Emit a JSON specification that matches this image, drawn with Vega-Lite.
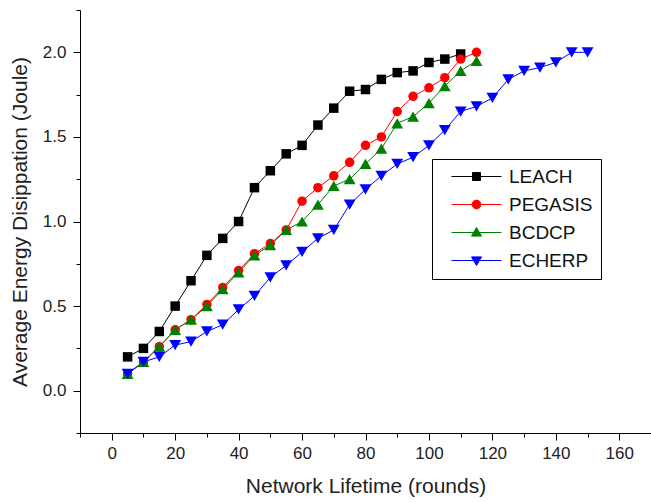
{
  "$schema": "https://vega.github.io/schema/vega-lite/v6.json",
  "width": 571,
  "height": 423,
  "autosize": "none",
  "padding": {"left": 80, "top": 10, "right": 0, "bottom": 69},
  "config": {
    "view": {"stroke": null},
    "font": "Liberation Sans",
    "axis": {
      "domainColor": "#000000",
      "tickColor": "#000000",
      "labelColor": "#222222",
      "titleColor": "#222222",
      "labelFont": "Liberation Sans",
      "titleFont": "Liberation Sans",
      "labelFontSize": 17,
      "titleFontSize": 21,
      "titleFontWeight": "normal",
      "grid": false
    },
    "legend": {
      "title": null,
      "orient": "none",
      "legendX": 352,
      "legendY": 149,
      "strokeColor": "#000000",
      "fillColor": "#ffffff",
      "padding": 8,
      "labelFontSize": 19,
      "labelFont": "Liberation Sans",
      "labelColor": "#111111",
      "symbolSize": 64,
      "rowPadding": 8,
      "labelOffset": 23,
      "symbolOffset": 27
    }
  },
  "datasets": {
    "series": [
      {"r": 5, "e": 0.2, "p": "LEACH"}, {"r": 10, "e": 0.25, "p": "LEACH"}, {"r": 15, "e": 0.35, "p": "LEACH"}, {"r": 20, "e": 0.5, "p": "LEACH"}, {"r": 25, "e": 0.65, "p": "LEACH"}, {"r": 30, "e": 0.8, "p": "LEACH"}, {"r": 35, "e": 0.9, "p": "LEACH"}, {"r": 40, "e": 1.0, "p": "LEACH"}, {"r": 45, "e": 1.2, "p": "LEACH"}, {"r": 50, "e": 1.3, "p": "LEACH"}, {"r": 55, "e": 1.4, "p": "LEACH"}, {"r": 60, "e": 1.45, "p": "LEACH"}, {"r": 65, "e": 1.57, "p": "LEACH"}, {"r": 70, "e": 1.67, "p": "LEACH"}, {"r": 75, "e": 1.77, "p": "LEACH"}, {"r": 80, "e": 1.78, "p": "LEACH"}, {"r": 85, "e": 1.84, "p": "LEACH"}, {"r": 90, "e": 1.88, "p": "LEACH"}, {"r": 95, "e": 1.89, "p": "LEACH"}, {"r": 100, "e": 1.94, "p": "LEACH"}, {"r": 105, "e": 1.96, "p": "LEACH"}, {"r": 110, "e": 1.99, "p": "LEACH"},
      {"r": 5, "e": 0.1, "p": "PEGASIS"}, {"r": 10, "e": 0.17, "p": "PEGASIS"}, {"r": 15, "e": 0.26, "p": "PEGASIS"}, {"r": 20, "e": 0.36, "p": "PEGASIS"}, {"r": 25, "e": 0.42, "p": "PEGASIS"}, {"r": 30, "e": 0.51, "p": "PEGASIS"}, {"r": 35, "e": 0.61, "p": "PEGASIS"}, {"r": 40, "e": 0.71, "p": "PEGASIS"}, {"r": 45, "e": 0.81, "p": "PEGASIS"}, {"r": 50, "e": 0.87, "p": "PEGASIS"}, {"r": 55, "e": 0.95, "p": "PEGASIS"}, {"r": 60, "e": 1.12, "p": "PEGASIS"}, {"r": 65, "e": 1.2, "p": "PEGASIS"}, {"r": 70, "e": 1.27, "p": "PEGASIS"}, {"r": 75, "e": 1.35, "p": "PEGASIS"}, {"r": 80, "e": 1.45, "p": "PEGASIS"}, {"r": 85, "e": 1.5, "p": "PEGASIS"}, {"r": 90, "e": 1.65, "p": "PEGASIS"}, {"r": 95, "e": 1.74, "p": "PEGASIS"}, {"r": 100, "e": 1.79, "p": "PEGASIS"}, {"r": 105, "e": 1.85, "p": "PEGASIS"}, {"r": 110, "e": 1.96, "p": "PEGASIS"}, {"r": 115, "e": 2.0, "p": "PEGASIS"},
      {"r": 5, "e": 0.1, "p": "BCDCP"}, {"r": 10, "e": 0.17, "p": "BCDCP"}, {"r": 15, "e": 0.26, "p": "BCDCP"}, {"r": 20, "e": 0.36, "p": "BCDCP"}, {"r": 25, "e": 0.42, "p": "BCDCP"}, {"r": 30, "e": 0.5, "p": "BCDCP"}, {"r": 35, "e": 0.6, "p": "BCDCP"}, {"r": 40, "e": 0.7, "p": "BCDCP"}, {"r": 45, "e": 0.8, "p": "BCDCP"}, {"r": 50, "e": 0.86, "p": "BCDCP"}, {"r": 55, "e": 0.95, "p": "BCDCP"}, {"r": 60, "e": 1.0, "p": "BCDCP"}, {"r": 65, "e": 1.1, "p": "BCDCP"}, {"r": 70, "e": 1.21, "p": "BCDCP"}, {"r": 75, "e": 1.25, "p": "BCDCP"}, {"r": 80, "e": 1.34, "p": "BCDCP"}, {"r": 85, "e": 1.43, "p": "BCDCP"}, {"r": 90, "e": 1.58, "p": "BCDCP"}, {"r": 95, "e": 1.62, "p": "BCDCP"}, {"r": 100, "e": 1.7, "p": "BCDCP"}, {"r": 105, "e": 1.8, "p": "BCDCP"}, {"r": 110, "e": 1.89, "p": "BCDCP"}, {"r": 115, "e": 1.95, "p": "BCDCP"},
      {"r": 5, "e": 0.1, "p": "ECHERP"}, {"r": 10, "e": 0.17, "p": "ECHERP"}, {"r": 15, "e": 0.2, "p": "ECHERP"}, {"r": 20, "e": 0.27, "p": "ECHERP"}, {"r": 25, "e": 0.29, "p": "ECHERP"}, {"r": 30, "e": 0.35, "p": "ECHERP"}, {"r": 35, "e": 0.39, "p": "ECHERP"}, {"r": 40, "e": 0.48, "p": "ECHERP"}, {"r": 45, "e": 0.56, "p": "ECHERP"}, {"r": 50, "e": 0.67, "p": "ECHERP"}, {"r": 55, "e": 0.74, "p": "ECHERP"}, {"r": 60, "e": 0.82, "p": "ECHERP"}, {"r": 65, "e": 0.9, "p": "ECHERP"}, {"r": 70, "e": 0.95, "p": "ECHERP"}, {"r": 75, "e": 1.1, "p": "ECHERP"}, {"r": 80, "e": 1.19, "p": "ECHERP"}, {"r": 85, "e": 1.27, "p": "ECHERP"}, {"r": 90, "e": 1.34, "p": "ECHERP"}, {"r": 95, "e": 1.38, "p": "ECHERP"}, {"r": 100, "e": 1.45, "p": "ECHERP"}, {"r": 105, "e": 1.54, "p": "ECHERP"}, {"r": 110, "e": 1.65, "p": "ECHERP"}, {"r": 115, "e": 1.68, "p": "ECHERP"}, {"r": 120, "e": 1.73, "p": "ECHERP"}, {"r": 125, "e": 1.84, "p": "ECHERP"}, {"r": 130, "e": 1.89, "p": "ECHERP"}, {"r": 135, "e": 1.91, "p": "ECHERP"}, {"r": 140, "e": 1.94, "p": "ECHERP"}, {"r": 145, "e": 2.0, "p": "ECHERP"}, {"r": 150, "e": 2.0, "p": "ECHERP"}
    ]
  },
  "data": {"name": "series"},
  "layer": [
    {
      "mark": {"type": "line", "strokeWidth": 1},
      "encoding": {
        "x": {"field": "r", "type": "quantitative", "scale": {"domain": [-10, 170], "nice": false, "zero": false},
          "axis": {"title": "Network Lifetime (rounds)", "values": [0, 20, 40, 60, 80, 100, 120, 140, 160], "tickSize": 7, "labelPadding": 5, "titlePadding": 14, "orient": "bottom"}},
        "y": {"field": "e", "type": "quantitative", "scale": {"domain": [-0.25, 2.25], "nice": false, "zero": false},
          "axis": {"title": "Average Energy Disippation (Joule)", "values": [0, 0.5, 1, 1.5, 2], "format": ".1f", "tickSize": 7, "labelPadding": 7, "titlePadding": 12, "orient": "left"}},
        "color": {"field": "p", "type": "nominal",
          "scale": {"domain": ["LEACH", "PEGASIS", "BCDCP", "ECHERP"], "range": ["#000000", "#ff0000", "#008000", "#0000ff"]},
          "legend": {
            "labelExpr": "datum.label + '\u00a0\u00a0'",
            "encode": {
              "symbols": {
                "update": {
                  "shape": {"signal": "datum.value === 'LEACH' ? 'M-6.25,0H6.25M-1,-1H1V1H-1Z' : datum.value === 'PEGASIS' ? 'M-6.25,0H6.25M-1.1,0A1.1,1.1 0 1,0 1.1,0A1.1,1.1 0 1,0 -1.1,0Z' : datum.value === 'BCDCP' ? 'M-6.25,0H6.25M0,-1.25L1.25,0.9H-1.25Z' : 'M-6.25,0H6.25M0,1.25L1.25,-0.9H-1.25Z'"},
                  "size": {"value": 64},
                  "stroke": {"scale": "color", "field": "value"},
                  "fill": {"scale": "color", "field": "value"},
                  "strokeWidth": {"value": 1},
                  "opacity": {"value": 1}
                }
              }
            }
          }},
        "detail": {"field": "p"}
      }
    },
    {"transform": [{"filter": "datum.p === 'LEACH'"}], "mark": {"type": "point", "filled": true, "opacity": 1, "shape": "square", "size": 90},
      "encoding": {"x": {"field": "r", "type": "quantitative", "axis": {"title": null, "values": [-10, 10, 30, 50, 70, 90, 110, 130, 150, 170], "labels": false, "tickSize": 4, "domain": false, "orient": "bottom"}},
        "y": {"field": "e", "type": "quantitative", "axis": {"title": null, "values": [-0.25, 0.25, 0.75, 1.25, 1.75, 2.25], "labels": false, "tickSize": 4, "domain": false, "orient": "left"}},
        "color": {"field": "p", "type": "nominal", "legend": null}}},
    {"transform": [{"filter": "datum.p === 'PEGASIS'"}], "mark": {"type": "point", "filled": true, "opacity": 1, "shape": "circle", "size": 90},
      "encoding": {"x": {"field": "r", "type": "quantitative", "axis": null}, "y": {"field": "e", "type": "quantitative", "axis": null},
        "color": {"field": "p", "type": "nominal", "legend": null}}},
    {"transform": [{"filter": "datum.p === 'BCDCP'"}], "mark": {"type": "point", "filled": true, "opacity": 1, "shape": "triangle-up", "size": 140},
      "encoding": {"x": {"field": "r", "type": "quantitative", "axis": null}, "y": {"field": "e", "type": "quantitative", "axis": null},
        "color": {"field": "p", "type": "nominal", "legend": null}}},
    {"transform": [{"filter": "datum.p === 'ECHERP'"}], "mark": {"type": "point", "filled": true, "opacity": 1, "shape": "triangle-down", "size": 140},
      "encoding": {"x": {"field": "r", "type": "quantitative", "axis": null}, "y": {"field": "e", "type": "quantitative", "axis": null},
        "color": {"field": "p", "type": "nominal", "legend": null}}}
  ],
  "resolve": {"axis": {"x": "independent", "y": "independent"}}
}
